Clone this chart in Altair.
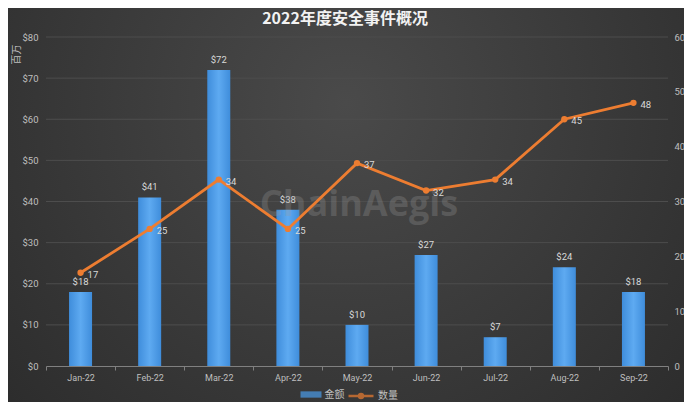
import altair as alt
import pandas as pd

months = ["Jan-22", "Feb-22", "Mar-22", "Apr-22", "May-22", "Jun-22", "Jul-22", "Aug-22", "Sep-22"]
amounts = [18, 41, 72, 38, 10, 27, 7, 24, 18]
counts = [17, 25, 34, 25, 37, 32, 34, 45, 48]
left_ticks = [0, 10, 20, 30, 40, 50, 60, 70, 80]
right_ticks = [0, 10, 20, 30, 40, 50, 60]
title_text = "2022年度安全事件概况"
left_axis_title = "百万"
series_amount = "金额"
series_count = "数量"
watermark = "ChainAegis"

W, H = 622, 329
FONT = "Roboto, Noto Sans CJK SC"
CJK = "Noto Sans CJK SC"
LABEL_COLOR = "#bfbfbf"
BLUE = "#4a9be8"
ORANGE = "#ed7d31"

df = pd.DataFrame({"month": months, "amount": amounts, "count": counts})
df["amount_label"] = ["$" + str(v) for v in amounts]
grid_df = pd.DataFrame({"v": left_ticks[1:]})
one = pd.DataFrame({"a": [0]})

x_enc = alt.X(
    "month:N", sort=months,
    scale=alt.Scale(paddingInner=0, paddingOuter=0),
    axis=alt.Axis(title=None, labelAngle=0, tickBand="extent", tickSize=4,
                  tickColor="#808080", domainColor="#808080", labelColor=LABEL_COLOR,
                  labelFontSize=9, labelFont=FONT, labelPadding=3, grid=False, zindex=1),
)

left_scale = alt.Scale(domain=[0, 80], nice=False)
right_scale = alt.Scale(domain=[0, 60], nice=False)
left_axis = alt.Axis(values=left_ticks, labelExpr="'$' + datum.value", grid=False,
                     domain=False, ticks=False, labelColor=LABEL_COLOR, labelFontSize=9.5,
                     labelFont=FONT, labelPadding=8, title=left_axis_title, titleAngle=270,
                     titleX=-30, titleY=17, titleAlign="center", titleBaseline="middle",
                     titleColor=LABEL_COLOR, titleFontSize=10, titleFont=CJK,
                     titleFontWeight="normal", zindex=1)
right_axis = alt.Axis(values=right_ticks, grid=False, domain=False, ticks=False,
                      orient="right", labelColor=LABEL_COLOR, labelFontSize=9.5,
                      labelFont=FONT, labelPadding=6, title=None, zindex=1)

bg = alt.Chart(one).mark_rect(
    fill=alt.RadialGradient(
        gradient="radial",
        stops=[alt.GradientStop(offset=0, color="#4a4a4a"),
               alt.GradientStop(offset=1, color="#272727")],
        x1=0.5, y1=0.35, x2=0.5, y2=0.35, r1=0, r2=0.8,
    )
).encode(x=alt.value(-38), x2=alt.value(W + 16), y=alt.value(-29), y2=alt.value(H + 36))

title_mark = alt.Chart(one).mark_text(
    text=title_text, fontSize=16, fontWeight="bold", font=CJK, color="#f2f2f2",
    align="center", baseline="middle",
).encode(x=alt.value(299), y=alt.value(-18))

grid = alt.Chart(grid_df).mark_rule(color="#4d4d4d", strokeWidth=1).encode(
    y=alt.Y("v:Q", scale=left_scale, axis=left_axis),
    x=alt.value(0), x2=alt.value(W),
)

bars = alt.Chart(df).mark_bar(
    size=23,
    color=alt.LinearGradient(
        gradient="linear",
        stops=[alt.GradientStop(offset=0, color="#3f8ddb"),
               alt.GradientStop(offset=0.5, color="#5eaaf1"),
               alt.GradientStop(offset=1, color="#3f8ddb")],
        x1=0, x2=1, y1=0, y2=0,
    ),
).encode(x=x_enc, y=alt.Y("amount:Q", scale=left_scale, axis=left_axis))

bar_labels = alt.Chart(df).mark_text(
    dy=-5, baseline="bottom", color="#d9d9d9", fontSize=9.5, font=FONT
).encode(x=x_enc, y=alt.Y("amount:Q", scale=left_scale, axis=left_axis), text="amount_label:N")

wm = alt.Chart(one).mark_text(
    text=watermark, fontSize=36, fontWeight="bold", font="Open Sans",
    color="#9a9a9a", opacity=0.28, align="center", baseline="middle",
).encode(x=alt.value(313), y=alt.value(168))

leg_amount = alt.Chart(pd.DataFrame({"s": [series_amount]})).mark_point(filled=True).encode(
    fill=alt.Fill("s:N", scale=alt.Scale(domain=[series_amount], range=[BLUE]),
                  legend=alt.Legend(title=None, orient="none", legendX=254.5, legendY=347,
                                    symbolType="M-1,-0.3H1V0.3H-1Z", symbolSize=441,
                                    symbolStrokeWidth=0, labelColor=LABEL_COLOR,
                                    labelFont=CJK, labelFontSize=10, labelOffset=3,
                                    padding=0, zindex=1)),
    x=alt.value(-500), y=alt.value(-500),
)

leg_count = alt.Chart(pd.DataFrame({"s": [series_count]})).mark_point(
    filled=True, fill=ORANGE
).encode(
    stroke=alt.Stroke("s:N", scale=alt.Scale(domain=[series_count], range=[ORANGE]),
                      legend=alt.Legend(title=None, orient="none", legendX=301, legendY=345,
                                        symbolType="M-1,0H1M0.16,0A0.16,0.16 0 1,1 -0.16,0A0.16,0.16 0 1,1 0.16,0Z",
                                        symbolSize=625, symbolStrokeWidth=2.5,
                                        symbolFillColor=ORANGE, labelColor=LABEL_COLOR,
                                        labelFont=CJK, labelFontSize=10, labelOffset=3,
                                        padding=0, zindex=1)),
    x=alt.value(-500), y=alt.value(-500),
)

left = alt.layer(bg, title_mark, grid, bars, bar_labels, wm, leg_amount, leg_count)

y_right = alt.Y("count:Q", scale=right_scale, axis=right_axis)
line = alt.Chart(df).mark_line(color=ORANGE, strokeWidth=2.8).encode(x=x_enc, y=y_right)
pts = alt.Chart(df).mark_point(filled=True, color=ORANGE, size=40, opacity=1).encode(x=x_enc, y=y_right)
line_labels = alt.Chart(df).mark_text(
    align="left", dx=7, dy=2, color="#d9d9d9", fontSize=9.5, font=FONT
).encode(x=x_enc, y=y_right, text="count:Q")
right = alt.layer(line, pts, line_labels)

chart = alt.layer(left, right).resolve_scale(y="independent").properties(
    width=W, height=H,
    autosize="none",
    padding={"left": 38, "top": 29, "right": 16, "bottom": 36},
    background="#2b2b2b",
).configure_view(stroke=None)

chart.save("out.html", embed_options={"renderer": "svg", "actions": False})
